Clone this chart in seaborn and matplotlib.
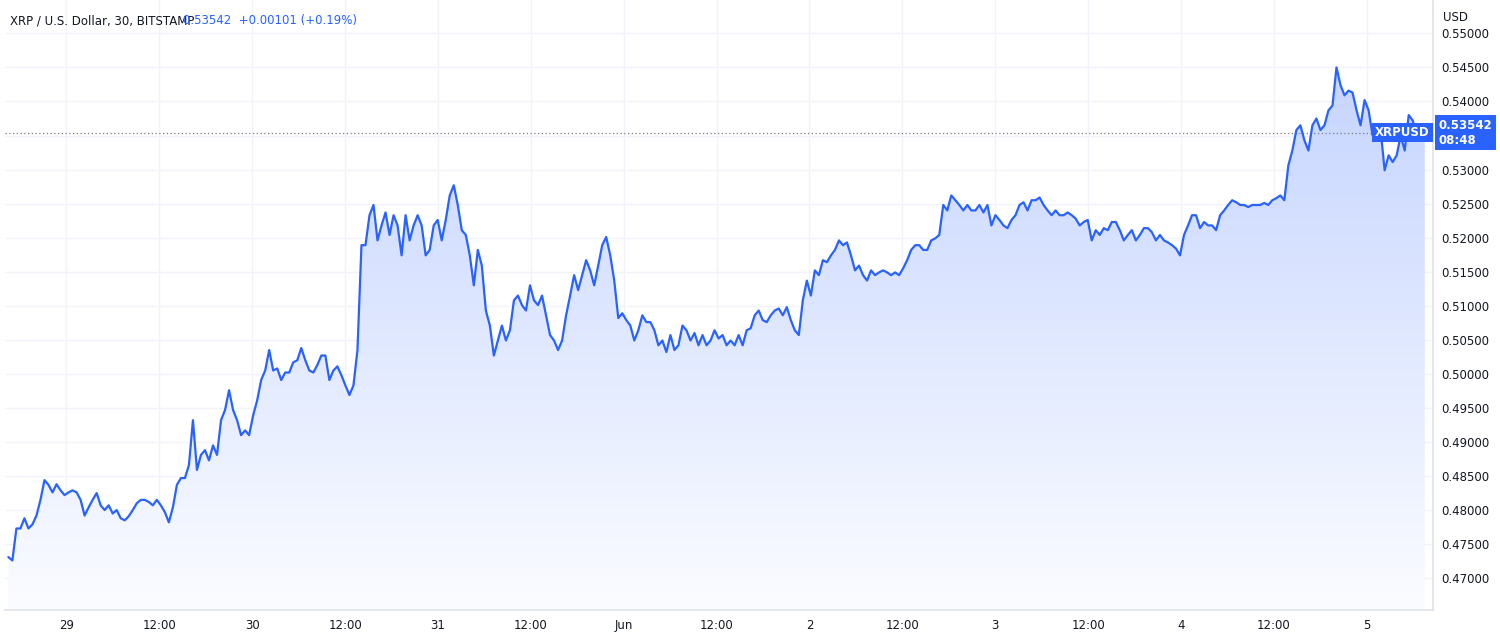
import numpy as np
import pandas as pd
import matplotlib
matplotlib.use("Agg")
import matplotlib.pyplot as plt
import matplotlib.dates as mdates
import seaborn as sns

# XRP/USD 30-min closes, May 28 16:30 -> Jun 5 07:30
prices = [
    .4731, .4726, .4773, .4773, .4788, .4773, .4779, .4792, .4815, .4844, .4837, .4826, .4838, .4829,
    .4822, .4826, .4829, .4826, .4815, .4792, .4804, .4815, .4825, .4807, .4800, .4807, .4795, .4800,
    .4788, .4785, .4791, .4800, .4810, .4815, .4815, .4812, .4807, .4815, .4807, .4797, .4782, .4804,
    .4837, .4847, .4847, .4866, .4932, .4859, .4881, .4888, .4873, .4895, .4881, .4932, .4947, .4976,
    .4947, .4932, .4910, .4917, .4910, .4939, .4961, .4991, .5005, .5035, .5005, .5008, .4991, .5002,
    .5002, .5017, .5020, .5038, .5020, .5005, .5002, .5013, .5027, .5027, .4991, .5005, .5011, .4998,
    .4983, .4969, .4983, .5035, .5189, .5189, .5233, .5248, .5196, .5218, .5237, .5204, .5233, .5218,
    .5174, .5233, .5196, .5218, .5233, .5218, .5174, .5182, .5218, .5226, .5196, .5226, .5262, .5277,
    .5248, .5211, .5204, .5174, .5130, .5182, .5159, .5093, .5071, .5027, .5049, .5071, .5049, .5064,
    .5108, .5115, .5101, .5093, .5130, .5108, .5101, .5115, .5086, .5057, .5049, .5035, .5049, .5086,
    .5115, .5145, .5123, .5145, .5167, .5152, .5130, .5159, .5189, .5201, .5174, .5137, .5082, .5089,
    .5079, .5071, .5049, .5064, .5086, .5076, .5076, .5064, .5042, .5049, .5032, .5057, .5035, .5042,
    .5071, .5064, .5049, .5060, .5042, .5057, .5042, .5049, .5064, .5052, .5057, .5042, .5049, .5042,
    .5057, .5042, .5064, .5067, .5086, .5093, .5079, .5076, .5086, .5093, .5096, .5086, .5098, .5079,
    .5064, .5057, .5108, .5137, .5115, .5152, .5145, .5167, .5164, .5174, .5182, .5196, .5189, .5193,
    .5174, .5152, .5159, .5145, .5137, .5152, .5145, .5149, .5152, .5149, .5145, .5149, .5145, .5155,
    .5167, .5182, .5189, .5189, .5182, .5182, .5196, .5199, .5204, .5248, .5240, .5262, .5255, .5248,
    .5240, .5248, .5240, .5240, .5248, .5237, .5248, .5218, .5233, .5226, .5218, .5214, .5226, .5233,
    .5248, .5252, .5240, .5255, .5255, .5259, .5248, .5240, .5233, .5240, .5233, .5233, .5237, .5233,
    .5228, .5218, .5223, .5226, .5196, .5211, .5204, .5214, .5211, .5223, .5223, .5211, .5196, .5204,
    .5211, .5196, .5204, .5214, .5214, .5208, .5196, .5204, .5196, .5193, .5189, .5184, .5174, .5204,
    .5218, .5233, .5233, .5214, .5223, .5218, .5218, .5211, .5233, .5240, .5248, .5255, .5252, .5248,
    .5248, .5245, .5248, .5248, .5248, .5251, .5248, .5255, .5258, .5262, .5255, .5306, .5328, .5358,
    .5365, .5343, .5328, .5365, .5375, .5358, .5365, .5387, .5394, .5450, .5424, .5409, .5416, .5413,
    .5387, .5365, .5402, .5387, .5350, .5350, .5358, .5299, .5321, .5311, .5321, .5350, .5328, .5380,
    .5372, .5350, .5365, .5354,
]
start_time = "2024-05-28 16:30"
end_time = "2024-06-05 07:30"
last_price = 0.53542
tick_dates = ["2024-05-29 00:00", "2024-05-29 12:00", "2024-05-30 00:00", "2024-05-30 12:00",
              "2024-05-31 00:00", "2024-05-31 12:00", "2024-06-01 00:00", "2024-06-01 12:00",
              "2024-06-02 00:00", "2024-06-02 12:00", "2024-06-03 00:00", "2024-06-03 12:00",
              "2024-06-04 00:00", "2024-06-04 12:00", "2024-06-05 00:00"]
tick_labels = ["29", "12:00", "30", "12:00", "31", "12:00", "Jun", "12:00", "2", "12:00",
               "3", "12:00", "4", "12:00", "5"]
y_ticks = np.arange(0.470, 0.5501, 0.005)

df = pd.DataFrame({
    "time": pd.date_range(start_time, end_time, periods=len(prices)),
    "price": prices,
})

sns.set_theme(style="white")
plt.rcParams["font.family"] = ["DejaVu Sans"]

LINE = "#2962ff"
TXT = "#131722"
GRID = "#f0f3fa"

fig = plt.figure(figsize=(15, 6.43), dpi=100)
ax = fig.add_axes([0.003, 0.051, 0.952, 0.949])

ymin, ymax = 0.4653, 0.5549
x0 = mdates.date2num(df["time"].iloc[0])
x1 = mdates.date2num(df["time"].iloc[-1])

# gradient area under the line
grad = np.linspace(0.02, 0.30, 256).reshape(-1, 1)
cmap = matplotlib.colors.LinearSegmentedColormap.from_list("g", ["#ffffff", LINE])
img = ax.imshow(grad, extent=[x0, x1, ymin, ymax], origin="lower", aspect="auto",
                cmap=cmap, vmin=0, vmax=1, zorder=1)
poly = ax.fill_between(df["time"], df["price"], ymin, color="none")
clip = poly.get_paths()[0]
img.set_clip_path(clip, transform=ax.transData)

sns.lineplot(data=df, x="time", y="price", ax=ax, color=LINE, linewidth=1.6, zorder=3)

ax.set_xlim(mdates.date2num(pd.Timestamp("2024-05-28 16:00")), mdates.date2num(pd.Timestamp("2024-06-05 08:30")))
ax.set_ylim(ymin, ymax)

ax.set_xticks(pd.to_datetime(tick_dates, format="%Y-%m-%d %H:%M"))
ax.set_xticklabels(tick_labels, fontsize=8.5, color=TXT)
ax.set_yticks(y_ticks)
ax.set_yticklabels([f"{v:.5f}" for v in y_ticks], fontsize=8.5, color=TXT)
ax.yaxis.tick_right()
ax.tick_params(axis="both", length=0, pad=6)
ax.grid(True, color=GRID, linewidth=1, zorder=0)
ax.set_xlabel("")
ax.set_ylabel("")
for s in ["top", "left"]:
    ax.spines[s].set_visible(False)
ax.spines["right"].set_color("#e0e3eb")
ax.spines["bottom"].set_color("#e0e3eb")

# last price line and labels
ax.axhline(last_price, color="#787b86", linestyle=(0, (1, 2)), linewidth=0.9, zorder=2)
ax.text(1.004, last_price, "0.53542\n08:48", transform=ax.get_yaxis_transform(), fontsize=8.5,
        color="white", va="center", ha="left", fontweight="bold",
        bbox=dict(boxstyle="square,pad=0.3", fc=LINE, ec="none"), zorder=5, clip_on=False)
ax.text(0.998, last_price, "XRPUSD", transform=ax.get_yaxis_transform(), fontsize=8.5,
        color="white", va="center", ha="right", fontweight="bold",
        bbox=dict(boxstyle="square,pad=0.25", fc=LINE, ec="none"), zorder=5)

fig.text(0.962, 0.968, "USD", fontsize=8.5, color=TXT)
fig.text(0.007, 0.962, "XRP / U.S. Dollar, 30, BITSTAMP", fontsize=8.5, color=TXT)
fig.text(0.122, 0.962, "0.53542  +0.00101 (+0.19%)", fontsize=8.5, color=LINE)

fig.savefig("out.png", dpi=100)
